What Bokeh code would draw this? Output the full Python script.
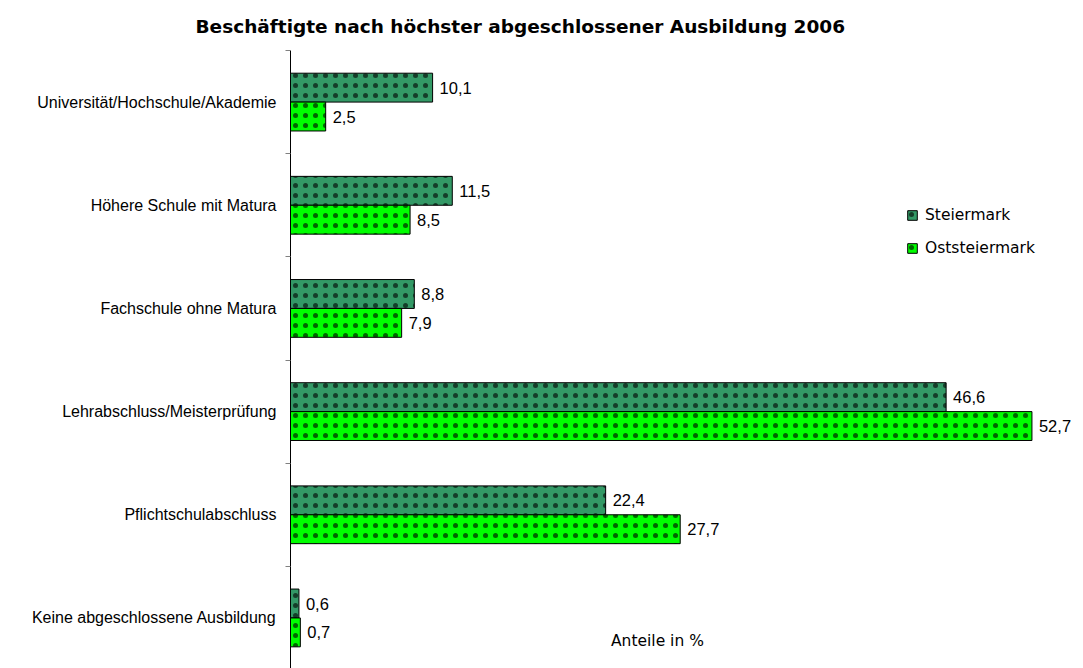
from bokeh.plotting import figure
from bokeh.models import Range1d, FixedTicker, ColumnDataSource, Legend, LegendItem
from bokeh.transform import dodge
from bokeh.core.properties import value
from bokeh.embed import file_html
from bokeh.resources import INLINE

categories = ["Universität/Hochschule/Akademie", "Höhere Schule mit Matura",
              "Fachschule ohne Matura", "Lehrabschluss/Meisterprüfung",
              "Pflichtschulabschluss", "Keine abgeschlossene Ausbildung"]
steiermark = [10.1, 11.5, 8.8, 46.6, 22.4, 0.6]
oststeiermark = [2.5, 8.5, 7.9, 52.7, 27.7, 0.7]
series_names = ["Steiermark", "Oststeiermark"]
title_text = "Beschäftigte nach höchster abgeschlossener Ausbildung 2006"
x_label = "Anteile in %"

idx = list(range(len(categories)))

def fmt(v):
    return f"{v:.1f}".replace(".", ",")

src = ColumnDataSource(dict(
    y=idx,
    s=steiermark, o=oststeiermark,
    sl=[fmt(v) for v in steiermark], ol=[fmt(v) for v in oststeiermark],
))

p = figure(width=1083, height=668, output_backend="svg", toolbar_location=None,
           x_range=Range1d(0, 56.08), y_range=Range1d(5.49, -0.5),
           min_border_left=290, min_border_right=4, min_border_top=50,
           min_border_bottom=0)
p.outline_line_color = None
p.grid.visible = False
p.xaxis.visible = False

bar_h = 0.28
off = 0.14
hatch = dict(hatch_pattern=".", hatch_color="black", hatch_scale=10,
             hatch_weight=0.7, hatch_alpha=0.6)
r1 = p.hbar(y=dodge("y", -off), right="s", left=0, height=bar_h, source=src,
            fill_color="#339966", line_color="black", line_width=1, **hatch)
r2 = p.hbar(y=dodge("y", off), right="o", left=0, height=bar_h, source=src,
            fill_color="#00FF00", line_color="black", line_width=1, **hatch)

p.text(x="s", y=dodge("y", -off), text="sl", source=src, x_offset=7,
       text_baseline="middle", text_font=value("Liberation Sans"),
       text_font_size="16.5px", text_color="black")
p.text(x="o", y=dodge("y", off), text="ol", source=src, x_offset=7,
       text_baseline="middle", text_font=value("Liberation Sans"),
       text_font_size="16.5px", text_color="black")

p.text(x=[26.08], y=[5.22], text=[x_label], text_align="center",
       text_baseline="middle", text_font=value("DejaVu Sans"),
       text_font_size="15.5px", text_color="black")

yax = p.yaxis[0]
yax.ticker = FixedTicker(ticks=idx, minor_ticks=[i - 0.5 for i in range(len(categories) + 1)])
yax.major_label_overrides = {i: c for i, c in zip(idx, categories)}
yax.major_tick_line_color = None
yax.minor_tick_in = 0
yax.minor_tick_out = 5
yax.minor_tick_line_color = "#808080"
yax.axis_line_color = "black"
yax.major_label_standoff = 8
yax.major_label_text_font = "Liberation Sans"
yax.major_label_text_font_size = "16px"
yax.major_label_text_color = "black"

p.title.text = title_text
p.title.text_font = "DejaVu Sans"
p.title.text_font_size = "18.5px"
p.title.text_font_style = "bold"
p.title.text_color = "black"
p.title.align = "left"
p.title.offset = -95
p.title.standoff = 27

legend = Legend(items=[LegendItem(label=series_names[0], renderers=[r1]),
                       LegendItem(label=series_names[1], renderers=[r2])],
                location=(616, 410), orientation="vertical",
                border_line_color=None, background_fill_alpha=0,
                glyph_width=12, glyph_height=12, label_height=20,
                spacing=13, padding=0, margin=0, label_standoff=7,
                label_text_font="DejaVu Sans", label_text_font_size="15.5px",
                label_text_color="black")
p.add_layout(legend, "center")

open("out.html", "w").write(file_html(p, INLINE))
